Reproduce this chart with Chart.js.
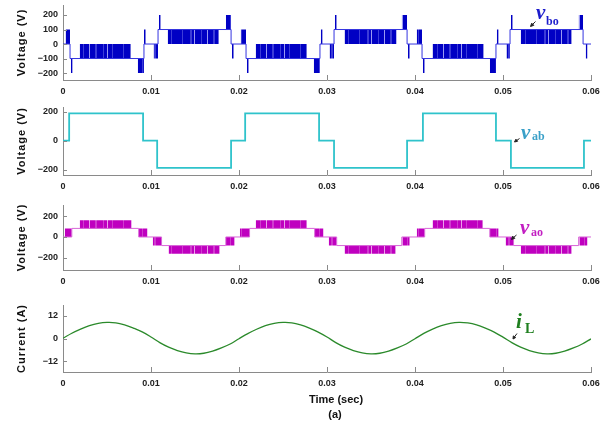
<!DOCTYPE html>
<html>
<head>
<meta charset="utf-8">
<script src="https://cdn.jsdelivr.net/npm/chart.js@4.4.1/dist/chart.umd.min.js"></script>
<style>
body{margin:0;background:#fff;}
#page{position:relative;width:603px;height:423px;overflow:hidden;font-family:"Liberation Sans",Arial,sans-serif;}
.panel{position:absolute;left:0;width:603px;}
.txt{position:absolute;white-space:nowrap;line-height:1;}
.sym{font-family:"Liberation Serif","DejaVu Serif",serif;font-style:italic;font-weight:bold;font-size:21px;}
.sub{font-family:"Liberation Serif","DejaVu Serif",serif;font-weight:bold;font-size:12px;}
.cap{font-weight:bold;font-size:11px;color:#111;transform:translateX(-50%);}
</style>
</head>
<body>
<div id="page">
  <div class="panel" style="top:0;height:100px"><canvas id="vboChart"></canvas></div>
  <div class="panel" style="top:100px;height:95px"><canvas id="vabChart"></canvas></div>
  <div class="panel" style="top:195px;height:95px"><canvas id="vaoChart"></canvas></div>
  <div class="panel" style="top:290px;height:102px"><canvas id="iLChart"></canvas></div>

  <svg width="603" height="423" style="position:absolute;left:0;top:0;pointer-events:none">
    <g stroke="#222" stroke-width="1" fill="#222">
      <line x1="535.5" y1="21.5" x2="532" y2="25"/><polygon points="530.5,26.5 533.8,25.3 531.7,23.2"/>
      <line x1="519.5" y1="138.5" x2="516" y2="141"/><polygon points="514.5,142 517.6,141.3 515.9,139.2"/>
      <line x1="516.5" y1="235" x2="513" y2="238"/><polygon points="511.5,239.5 514.8,238.3 512.7,236.2"/>
      <line x1="517" y1="333.5" x2="514" y2="337.5"/><polygon points="513,339 515.6,337.6 513.3,335.9"/>
    </g>
  </svg>

  <div class="txt sym" style="left:536px;top:2px;color:#1c1ccc">v</div>
  <div class="txt sub" style="left:546px;top:14.6px;color:#1c1ccc">bo</div>
  <div class="txt sym" style="left:521px;top:121.7px;color:#3aa0c8">v</div>
  <div class="txt sub" style="left:532px;top:130.4px;color:#3aa0c8">ab</div>
  <div class="txt sym" style="left:520px;top:217.4px;color:#c21ec2">v</div>
  <div class="txt sub" style="left:531px;top:226.2px;color:#c21ec2">ao</div>
  <div class="txt sym" style="left:516px;top:310.7px;color:#1f7f1f">i</div>
  <div class="txt sub" style="left:525px;top:321.6px;color:#1f7f1f;font-size:14px">L</div>

  <div class="txt cap" style="left:336px;top:393.5px">Time (sec)</div>
  <div class="txt cap" style="left:335px;top:408.5px">(a)</div>
</div>

<script>
const timeTicks = [0, 0.01, 0.02, 0.03, 0.04, 0.05, 0.06];
const timeTickLabels = ['0', '0.01', '0.02', '0.03', '0.04', '0.05', '0.06'];

// v_bo trace: level (V) holding from each time (sec)
const vboTimes  = [0, 0.0008, 0.0092, 0.0108, 0.0191, 0.0208, 0.0292, 0.0308, 0.0391, 0.0408, 0.0492, 0.0508, 0.0591, 0.06];
const vboLevels = [0, -100, 0, 100, 0, -100, 0, 100, 0, -100, 0, 100, 0, 0];
// v_bo switching bursts: [start, end, low, high]
const vboBursts = [
  [0.0003, 0.0008, 0, 100], [0.0009, 0.0011, -200, -100], [0.0019, 0.0077, -100, 0],
  [0.0085, 0.0092, -200, -100], [0.0092, 0.0094, 0, 100], [0.0103, 0.0108, -100, 0],
  [0.0109, 0.0111, 100, 200], [0.0119, 0.0177, 0, 100], [0.0185, 0.0191, 100, 200],
  [0.0192, 0.0194, -100, 0], [0.0202, 0.0208, 0, 100], [0.0209, 0.0211, -200, -100],
  [0.0219, 0.0277, -100, 0], [0.0285, 0.0292, -200, -100], [0.0293, 0.0295, 0, 100],
  [0.0303, 0.0308, -100, 0], [0.0309, 0.0311, 100, 200], [0.0320, 0.0379, 0, 100],
  [0.0385, 0.0391, 100, 200], [0.0392, 0.0394, -100, 0], [0.0402, 0.0408, 0, 100],
  [0.0409, 0.0411, -200, -100], [0.0420, 0.0478, -100, 0], [0.0485, 0.0492, -200, -100],
  [0.0493, 0.0495, 0, 100], [0.0504, 0.0508, -100, 0], [0.0509, 0.0511, 100, 200],
  [0.0520, 0.0578, 0, 100], [0.0586, 0.0591, 100, 200], [0.0594, 0.0596, -100, 0]
];
const vboTicks = [-200, -100, 0, 100, 200];

// v_ab
const vabTimes  = [0, 0.0007, 0.0091, 0.0107, 0.0191, 0.0207, 0.0291, 0.0308, 0.0391, 0.0409, 0.0492, 0.0509, 0.0592, 0.06];
const vabLevels = [0, 188, 0, -188, 0, 188, 0, -188, 0, 188, 0, -188, 0, 0];
const vabTicks = [-200, 0, 200];

// v_ao
const vaoTimes  = [0, 0.0010, 0.0086, 0.0112, 0.0185, 0.0212, 0.0286, 0.0311, 0.0385, 0.0411, 0.0485, 0.0512, 0.0586, 0.06];
const vaoLevels = [0, 83, 0, -83, 0, 83, 0, -83, 0, 83, 0, -83, 0, 0];
const vaoBursts = [
  [0.0002, 0.0010, 0, 83], [0.0019, 0.0078, 83, 162], [0.0086, 0.0096, 0, 83],
  [0.0102, 0.0112, -83, 0], [0.0120, 0.0178, -162, -83], [0.0185, 0.0195, -83, 0],
  [0.0201, 0.0212, 0, 83], [0.0219, 0.0277, 83, 162], [0.0286, 0.0296, 0, 83],
  [0.0302, 0.0311, -83, 0], [0.0320, 0.0378, -162, -83], [0.0385, 0.0394, -83, 0],
  [0.0402, 0.0411, 0, 83], [0.0420, 0.0477, 83, 162], [0.0485, 0.0495, 0, 83],
  [0.0503, 0.0512, -83, 0], [0.0520, 0.0578, -162, -83], [0.0586, 0.0596, -83, 0]
];
const vaoTicks = [-200, 0, 200];

// i_L (A), one sample per ms from 0 to 0.06 s
const iLValues = [
  0.2, 2.9, 5.1, 6.9, 8.1, 8.6, 8.4, 7.3, 5.6, 3.6,
  0.9, -2.1, -4.5, -6.3, -7.5, -8.0, -7.7, -6.6, -4.9, -2.8,
  0.0, 2.7, 5.0, 6.9, 8.1, 8.6, 8.4, 7.3, 5.6, 3.5,
  0.9, -2.1, -4.5, -6.3, -7.5, -8.0, -7.7, -6.6, -4.9, -2.8,
  0.0, 2.8, 5.1, 6.9, 8.1, 8.6, 8.3, 7.3, 5.6, 3.5,
  0.8, -2.1, -4.5, -6.3, -7.5, -8.0, -7.7, -6.6, -4.9, -2.8,
  -0.1
];
const iLTicks = [-12, 0, 12];

const axisColor = '#8a8a8a';
const tickFont = {family: '"Liberation Sans", Arial, sans-serif', size: 9, weight: 'bold'};
const titleFont = {family: '"Liberation Sans", Arial, sans-serif', size: 11, weight: 'bold'};

// small tick marks pointing into the plot
const innerTicks = {
  id: 'innerTicks',
  afterDraw(chart){
    const {ctx, chartArea: a, scales: {x, y}} = chart;
    ctx.save();
    ctx.strokeStyle = axisColor;
    ctx.lineWidth = 1;
    ctx.beginPath();
    x.ticks.forEach(t => {
      const px = Math.round(x.getPixelForValue(t.value)) + 0.5;
      ctx.moveTo(px, a.bottom); ctx.lineTo(px, a.bottom - 5);
    });
    y.ticks.forEach(t => {
      const py = Math.round(y.getPixelForValue(t.value)) + 0.5;
      ctx.moveTo(a.left, py); ctx.lineTo(a.left + 4, py);
    });
    ctx.stroke();
    ctx.restore();
  }
};

// spaced-out axis titles, normal tick labels
const spacing = {
  id: 'spacing',
  beforeDraw(chart){ chart.ctx.letterSpacing = '1px'; },
  afterDatasetsDraw(chart){ chart.ctx.letterSpacing = '0px'; }
};

// dense PWM look: dark fill with a few uneven lighter stripes
function stripes(canvasId, dark, mid, light){
  const tile = document.createElement('canvas');
  tile.width = 59; tile.height = 8;
  const g = tile.getContext('2d');
  g.fillStyle = dark; g.fillRect(0, 0, 59, 8);
  g.fillStyle = mid;
  [[5,1],[13,2],[24,1],[36,2],[44,1],[53,1]].forEach(s => g.fillRect(s[0], 0, s[1], 8));
  g.fillStyle = light;
  [[17,1],[30,1],[48,1]].forEach(s => g.fillRect(s[0], 0, s[1], 8));
  return document.getElementById(canvasId).getContext('2d').createPattern(tile, 'repeat');
}

function traceSet(times, levels, color, width){
  return {
    data: times.map((t, i) => ({x: t, y: levels[i]})),
    borderColor: color, borderWidth: width, stepped: 'before', fill: false, order: 0
  };
}

function burstSets(bursts, fillStyle){
  return bursts.map(b => ({
    data: [{x: b[0], y: b[3]}, {x: b[1], y: b[3]}],
    borderWidth: 0, backgroundColor: fillStyle, fill: {value: b[2]}, order: 1
  }));
}

function makePanel(id, datasets, yMin, yMax, yTicks, yTitle, padTop){
  return new Chart(document.getElementById(id), {
    type: 'line',
    data: {datasets},
    options: {
      responsive: true, maintainAspectRatio: false, animation: false,
      layout: {padding: {top: padTop, right: 12, left: 0, bottom: 0}},
      elements: {point: {radius: 0}},
      plugins: {legend: {display: false}, tooltip: {enabled: false}},
      scales: {
        x: {
          type: 'linear', min: 0, max: 0.06,
          afterBuildTicks: s => { s.ticks = timeTicks.map(v => ({value: v})); },
          afterFit: s => { s.height = 20; s.paddingLeft = 0; s.paddingRight = 0; },
          grid: {display: false, drawTicks: false},
          border: {color: axisColor},
          ticks: {callback: (v, i) => timeTickLabels[i], font: tickFont, color: '#222', padding: 6, maxRotation: 0, autoSkip: false, z: 1}
        },
        y: {
          min: yMin, max: yMax,
          afterBuildTicks: s => { s.ticks = yTicks.map(v => ({value: v})); },
          afterFit: s => { s.width = 63; s.paddingTop = 0; s.paddingBottom = 0; },
          grid: {display: false, drawTicks: false},
          border: {color: axisColor},
          title: {display: true, text: yTitle, font: titleFont, color: '#111', padding: {top: 15, bottom: 0}},
          ticks: {callback: v => v < 0 ? '\u2212' + (-v) : String(v), font: tickFont, color: '#222', padding: 5, z: 1}
        }
      }
    },
    plugins: [innerTicks, spacing]
  });
}

makePanel('vboChart',
  [traceSet(vboTimes, vboLevels, '#3434e0', 1)].concat(burstSets(vboBursts, stripes('vboChart', '#0000c4', '#3c3cd8', '#9a9af2'))),
  -248, 269, vboTicks, 'Voltage (V)', 5);

makePanel('vabChart',
  [traceSet(vabTimes, vabLevels, '#2fc3cb', 1.8)],
  -237, 232, vabTicks, 'Voltage (V)', 7);

makePanel('vaoChart',
  [traceSet(vaoTimes, vaoLevels, '#d766d7', 1)].concat(burstSets(vaoBursts, stripes('vaoChart', '#bf00bf', '#cf3ccf', '#eaa0ea'))),
  -319, 309, vaoTicks, 'Voltage (V)', 10);

makePanel('iLChart',
  [{data: iLValues.map((v, i) => ({x: i / 1000, y: v})), borderColor: '#2b8a2b', borderWidth: 1.3, tension: 0.35, fill: false}],
  -17.6, 17.8, iLTicks, 'Current (A)', 15);
</script>
</body>
</html>
